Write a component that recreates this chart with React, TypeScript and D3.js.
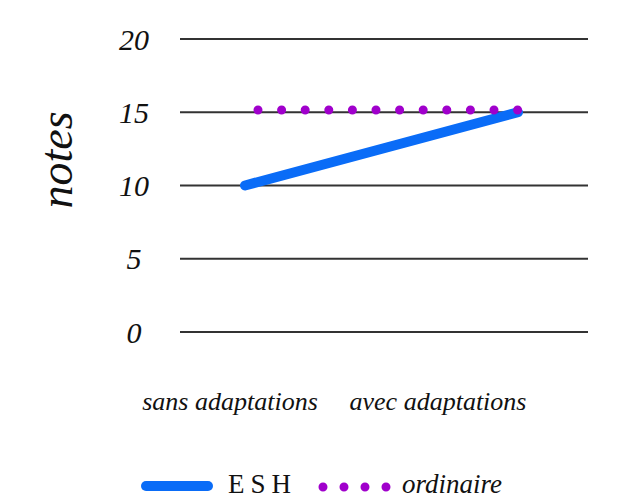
import React from "react";
import * as d3 from "d3";

const categories = ["sans adaptations", "avec adaptations"];
const eshValues = [10, 15];
const ordinaireValues = [15.15, 15.15];
const yTicks = [0, 5, 10, 15, 20];
const yTickLabels = ["0", "5", "10", "15", "20"];

const W = 625, H = 500;
const FONT = "'Liberation Serif', serif";

export default function App() {
  const y = d3.scaleLinear().domain([0, 20]).range([332, 39]);
  const x = d3.scalePoint<string>().domain(categories).range([245, 518]);
  const xLabel = d3.scaleBand<string>().domain(categories).range([126, 542]).padding(0);
  const line = d3.line<number>().x((_, i) => x(categories[i])!).y(v => y(v));
  const blue = "#0a6cf7";
  const purple = "#a000cc";
  return (
    <svg width={W} height={H} style={{ position: "absolute", left: 0, top: 0, background: "#fff" }}>
      {yTicks.map((t, i) => (
        <g key={t}>
          <line x1={180} x2={588} y1={y(t)} y2={y(t)} stroke="#333" strokeWidth={2.2} />
          <text x={134} y={y(t)} dy="0.35em" textAnchor="middle" fontFamily={FONT} fontStyle="italic" fontSize={30} fill="#111">
            {yTickLabels[i]}
          </text>
        </g>
      ))}
      <text transform="translate(56,160) rotate(-90)" textAnchor="middle" dy="0.35em" fontFamily={FONT} fontStyle="italic" fontSize={46} fill="#111">
        notes
      </text>
      <path d={line(eshValues)!} fill="none" stroke={blue} strokeWidth={10} strokeLinecap="round" />
      <path d={line(ordinaireValues)!} fill="none" stroke={purple} strokeWidth={9} strokeLinecap="round" strokeDasharray="0 23.6" strokeDashoffset={-13} />
      {categories.map(c => (
        <text key={c} x={xLabel(c)! + xLabel.bandwidth() / 2} y={410} textAnchor="middle" fontFamily={FONT} fontStyle="italic" fontSize={26} fill="#111">
          {c}
        </text>
      ))}
      <g>
        <line x1={146} x2={208} y1={486} y2={486} stroke={blue} strokeWidth={10} strokeLinecap="round" />
        <text x={228} y={484} dy="0.35em" fontFamily={FONT} fontSize={27} letterSpacing={6} fill="#111">ESH</text>
        <line x1={323} x2={386.5} y1={487} y2={487} stroke={purple} strokeWidth={9} strokeLinecap="round" strokeDasharray="0 21" />
        <text x={402} y={484} dy="0.35em" fontFamily={FONT} fontStyle="italic" fontSize={27} fill="#111">ordinaire</text>
      </g>
    </svg>
  );
}
